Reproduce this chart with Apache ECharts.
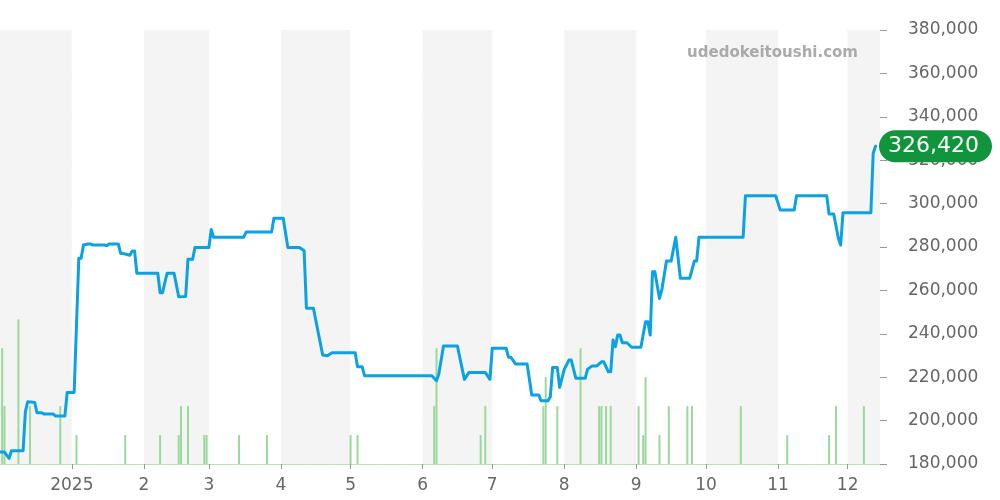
<!DOCTYPE html>
<html><head><meta charset="utf-8">
<script src="https://cdn.jsdelivr.net/npm/echarts@6/dist/echarts.min.js"></script>
<style>html,body{margin:0;padding:0;background:#fff}#c{width:1000px;height:500px}</style>
</head><body><div id="c"></div>
<script>
const priceDates = ['2024-12-01','2024-12-03','2024-12-05','2024-12-06','2024-12-11','2024-12-12','2024-12-13','2024-12-16','2024-12-17','2024-12-19','2024-12-20','2024-12-24','2024-12-25','2024-12-29','2024-12-30',
'2025-01-02','2025-01-04','2025-01-05','2025-01-06','2025-01-08','2025-01-09','2025-01-10','2025-01-15','2025-01-16','2025-01-17','2025-01-21','2025-01-22','2025-01-24','2025-01-26','2025-01-27','2025-01-28','2025-01-29',
'2025-02-07','2025-02-08','2025-02-09','2025-02-11','2025-02-14','2025-02-16','2025-02-19','2025-02-20','2025-02-22','2025-02-23',
'2025-03-01','2025-03-02','2025-03-03','2025-03-16','2025-03-17','2025-03-28','2025-03-29',
'2025-04-02','2025-04-04','2025-04-09','2025-04-11','2025-04-12','2025-04-15','2025-04-19','2025-04-21','2025-04-23',
'2025-05-03','2025-05-04','2025-05-06','2025-05-07',
'2025-06-05','2025-06-07','2025-06-08','2025-06-10','2025-06-16','2025-06-19','2025-06-21','2025-06-28','2025-06-30',
'2025-07-01','2025-07-07','2025-07-08','2025-07-09','2025-07-11','2025-07-16','2025-07-18','2025-07-21','2025-07-22','2025-07-25','2025-07-26','2025-07-27','2025-07-29','2025-07-30',
'2025-08-01','2025-08-03','2025-08-04','2025-08-06','2025-08-10','2025-08-11','2025-08-13','2025-08-15','2025-08-17','2025-08-18','2025-08-20','2025-08-21','2025-08-22','2025-08-23','2025-08-24','2025-08-25','2025-08-26','2025-08-28','2025-08-30',
'2025-09-03','2025-09-05','2025-09-06','2025-09-07','2025-09-08','2025-09-09','2025-09-11','2025-09-12','2025-09-14','2025-09-16','2025-09-18','2025-09-20','2025-09-24','2025-09-26','2025-09-27','2025-09-28',
'2025-10-17','2025-10-18','2025-10-31',
'2025-11-02','2025-11-08','2025-11-09','2025-11-22','2025-11-23','2025-11-25','2025-11-27','2025-11-28','2025-11-29',
'2025-12-11','2025-12-12','2025-12-13'];
const priceValues = [185500,185500,182600,186100,186100,204100,208700,208400,203600,203600,203000,203000,202100,202100,213000,
213000,274800,274800,280900,281400,281400,280900,280900,280600,281400,281400,277100,276800,276200,278200,278200,267900,
267900,258900,258900,267900,267900,257100,257200,274300,274300,279800,
279800,288100,284500,284500,286900,286900,293200,
293200,279800,279800,278300,251800,251800,230200,229900,231300,
231300,224800,224800,220700,
220700,218400,221500,234400,234400,219000,222200,222200,219000,
233300,233300,229200,229200,226100,226100,211800,211800,209200,209200,211000,224500,224500,215300,
223600,227900,227900,219500,219500,223600,225200,225200,227100,227100,222500,222500,237100,234000,239400,239400,235900,235900,233800,
233800,245600,245600,239400,268600,268600,256300,260200,273500,273500,284500,265600,265600,273500,273500,284500,
284500,303600,303600,
297000,297000,303600,303600,295200,295200,284000,280900,295800,
295800,323200,326420];
const volumeDates = ['2024-12-02','2024-12-03','2024-12-09','2024-12-14','2024-12-27','2025-01-03','2025-01-24','2025-02-08','2025-02-16','2025-02-17','2025-02-20','2025-02-27','2025-02-28','2025-03-14','2025-03-26','2025-05-01','2025-05-04','2025-06-06','2025-06-07','2025-06-26','2025-06-28','2025-07-23','2025-07-24','2025-07-29','2025-08-08','2025-08-16','2025-08-17','2025-08-19','2025-08-21','2025-09-02','2025-09-04','2025-09-05','2025-09-11','2025-09-15','2025-09-23','2025-09-25','2025-10-16','2025-11-05','2025-11-23','2025-11-26','2025-12-08'];
const volumeValues = [4,2,5,2,2,1,1,1,1,2,2,1,1,1,1,1,1,2,4,1,2,2,3,2,4,2,2,2,2,2,1,3,1,2,2,2,2,1,1,2,2];
const yMin = 180000, yMax = 380000, yStep = 20000;
const watermark = 'udedokeitoushi.com';

const fmt = v => Number(v).toLocaleString('en-US');
const lastIdx = priceValues.length - 1;
const chart = echarts.init(document.getElementById('c'), null, {renderer: 'canvas'});
chart.setOption({
  animation: false,
  backgroundColor: '#fff',
  title: {text: watermark, right: 137, top: 41, textStyle: {fontSize: 15, fontWeight: 'bold', color: '#aaa', fontFamily: 'DejaVu Sans'}},
  grid: {left: 0, right: 120, top: 30, bottom: 36},
  xAxis: {
    type: 'time', min: '2024-12-01 12:00', max: '2025-12-14 12:00',
    minInterval: 28 * 864e5, maxInterval: 31 * 864e5,
    splitLine: {show: false},
    splitArea: {show: true, areaStyle: {color: ['#f4f4f4', '#ffffff']}},
    axisLine: {lineStyle: {color: '#a8dca8', type: [1, 2], width: 1}},
    axisTick: {show: true, length: 5, lineStyle: {color: '#999'}},
    axisLabel: {color: '#666', fontSize: 17, margin: 13, fontFamily: 'DejaVu Sans',
      formatter: v => { const d = new Date(v); return d.getMonth() === 0 ? String(d.getFullYear()) : String(d.getMonth() + 1); }}
  },
  yAxis: [{
    type: 'value', position: 'right', min: yMin, max: yMax, interval: yStep,
    axisLine: {show: false},
    axisTick: {show: true, length: 7, lineStyle: {color: '#999'}},
    splitLine: {lineStyle: {color: '#dddddd'}},
    axisLabel: {color: '#666', fontSize: 17, margin: 28, fontFamily: 'DejaVu Sans', formatter: fmt}
  }, {
    type: 'value', min: 0, max: 15, show: false, splitLine: {show: false}
  }],
  series: [{
    type: 'bar', yAxisIndex: 1, barWidth: 2, z: 1,
    itemStyle: {color: '#9bd89b'},
    data: volumeDates.map((d, i) => [d, volumeValues[i]])
  }, {
    type: 'line', z: 3, showSymbol: false, symbol: 'none',
    lineStyle: {color: '#0ba1e6', width: 3, join: 'round', cap: 'round'},
    data: priceDates.map((d, i) => [d, priceValues[i]]),
    markPoint: {
      symbol: 'circle', symbolSize: 1, itemStyle: {color: 'rgba(0,0,0,0)'},
      label: {show: true, position: 'right', distance: 3, formatter: p => fmt(p.value),
        color: '#fff', fontSize: 22, fontFamily: 'DejaVu Sans', backgroundColor: '#10953d',
        borderRadius: 16, padding: [6, 13, 4, 9]},
      data: [{coord: [priceDates[lastIdx], priceValues[lastIdx]], value: priceValues[lastIdx]}]
    }
  }]
});
</script></body></html>
